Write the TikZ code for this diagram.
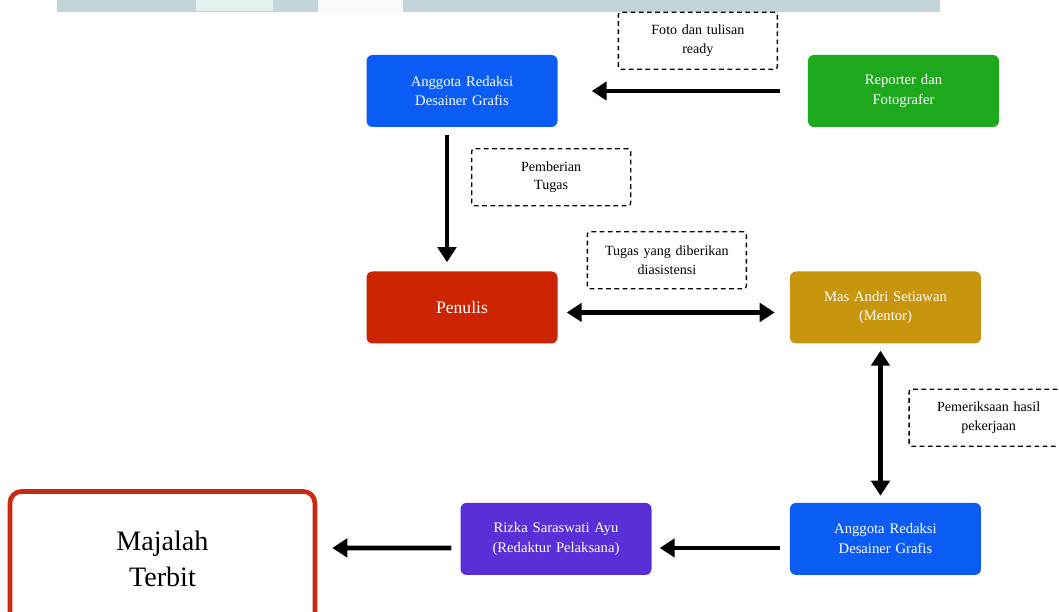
\documentclass[tikz,border=0pt]{standalone}
\usepackage{fontspec}
\setmainfont{Liberation Serif}
\usetikzlibrary{arrows.meta, positioning}

\definecolor{redaksiblue}{HTML}{0A5CF5}
\definecolor{reportergreen}{HTML}{1DA81D}
\definecolor{penulisred}{HTML}{CC2300}
\definecolor{mentorgold}{HTML}{C8960C}
\definecolor{redakturpurple}{HTML}{5A2FD8}
\definecolor{terbitred}{HTML}{C92A12}
\definecolor{stripgray}{HTML}{C3D4DA}
\definecolor{striplight}{HTML}{E4F2F2}

\begin{document}
\begin{tikzpicture}[
    >={Triangle[length=0.45cm,width=0.55cm]},
    role/.style = {rectangle, text=white, text width=5.2cm, align=center, rounded corners=0.18cm, minimum width=5.73cm, minimum height=2.16cm, font=\fontsize{12.5}{17}\selectfont},
    note/.style = {rectangle, draw=black, dash pattern=on 4pt off 3pt, line width=1.1pt, rounded corners=0.08cm, text width=4.5cm, align=center, minimum width=4.77cm, minimum height=1.71cm, inner sep=2pt, font=\fontsize{12}{16}\selectfont},
    flow/.style = {draw, ->, line width=4pt, black}
]
    \useasboundingbox (0,0) rectangle (31.77,-18.36);
    % strip left at the top of the screenshot
    \fill[stripgray] (1.71,0) rectangle (28.2,-0.36);
    \fill[striplight] (5.88,0) rectangle (8.19,-0.33);
    \fill[white!70!striplight] (9.54,0) rectangle (12.09,-0.36);

    \node [role, fill=redaksiblue] (anggota) at (13.86,-2.73) {Anggota Redaksi\\Desainer Grafis};
    \node [role, fill=reportergreen, right=7.5cm of anggota] (reporter) {Reporter dan\\Fotografer};
    \node [role, fill=penulisred, below=4.32cm of anggota, font=\fontsize{15}{18}\selectfont] (penulis) {Penulis};
    \node [role, fill=mentorgold, right=6.96cm of penulis] (mentor) {Mas Andri Setiawan\\(Mentor)};
    \node [role, fill=redaksiblue, below=4.77cm of mentor] (desainer) {Anggota Redaksi\\Desainer Grafis};
    \node [role, fill=redakturpurple, left=4.14cm of desainer] (redaktur) {Rizka Saraswati Ayu\\(Redaktur Pelaksana)};
    \node [rectangle, draw=terbitred, line width=4pt, fill=white, rounded corners=0.35cm, minimum width=9.15cm, minimum height=4.05cm, align=center, font=\fontsize{24}{30}\selectfont, left=4.29cm of redaktur, yshift=-0.6cm] (majalah) {Majalah\\Terbit};

    % keterangan alur
    \node [note, anchor=west] (foto) at ([xshift=1.8cm,yshift=0.42cm]anggota.north east) {Foto dan tulisan\\ready};
    \node [note, anchor=west] (tugas) at ([xshift=0.27cm,yshift=-1.5cm]anggota.south) {Pemberian\\Tugas};
    \node [note, anchor=west] (asistensi) at ([xshift=0.87cm,yshift=0.33cm]penulis.north east) {Tugas yang diberikan\\diasistensi};
    \node [note, anchor=west] (periksa) at ([xshift=0.69cm,yshift=-2.22cm]mentor.south) {Pemeriksaan hasil\\pekerjaan};

    \draw [flow] ([xshift=-0.84cm]reporter.west) -- ([xshift=1.02cm]anggota.east);
    \draw [flow] ([xshift=-0.45cm,yshift=-0.24cm]anggota.south) -- ([xshift=-0.45cm,yshift=0.27cm]penulis.north);
    \draw [flow, <->] ([xshift=0.27cm,yshift=-0.15cm]penulis.east) -- ([xshift=-0.45cm,yshift=-0.15cm]mentor.west);
    \draw [flow, <->] ([xshift=-0.15cm,yshift=-0.21cm]mentor.south) -- ([xshift=-0.15cm,yshift=0.21cm]desainer.north);
    \draw [flow] ([xshift=-0.3cm,yshift=-0.27cm]desainer.west) -- ([xshift=0.24cm,yshift=-0.27cm]redaktur.east);
    \draw [flow] ([xshift=-0.27cm,yshift=-0.27cm]redaktur.west) -- ([xshift=0.45cm,yshift=0.33cm]majalah.east);
\end{tikzpicture}
\end{document}
